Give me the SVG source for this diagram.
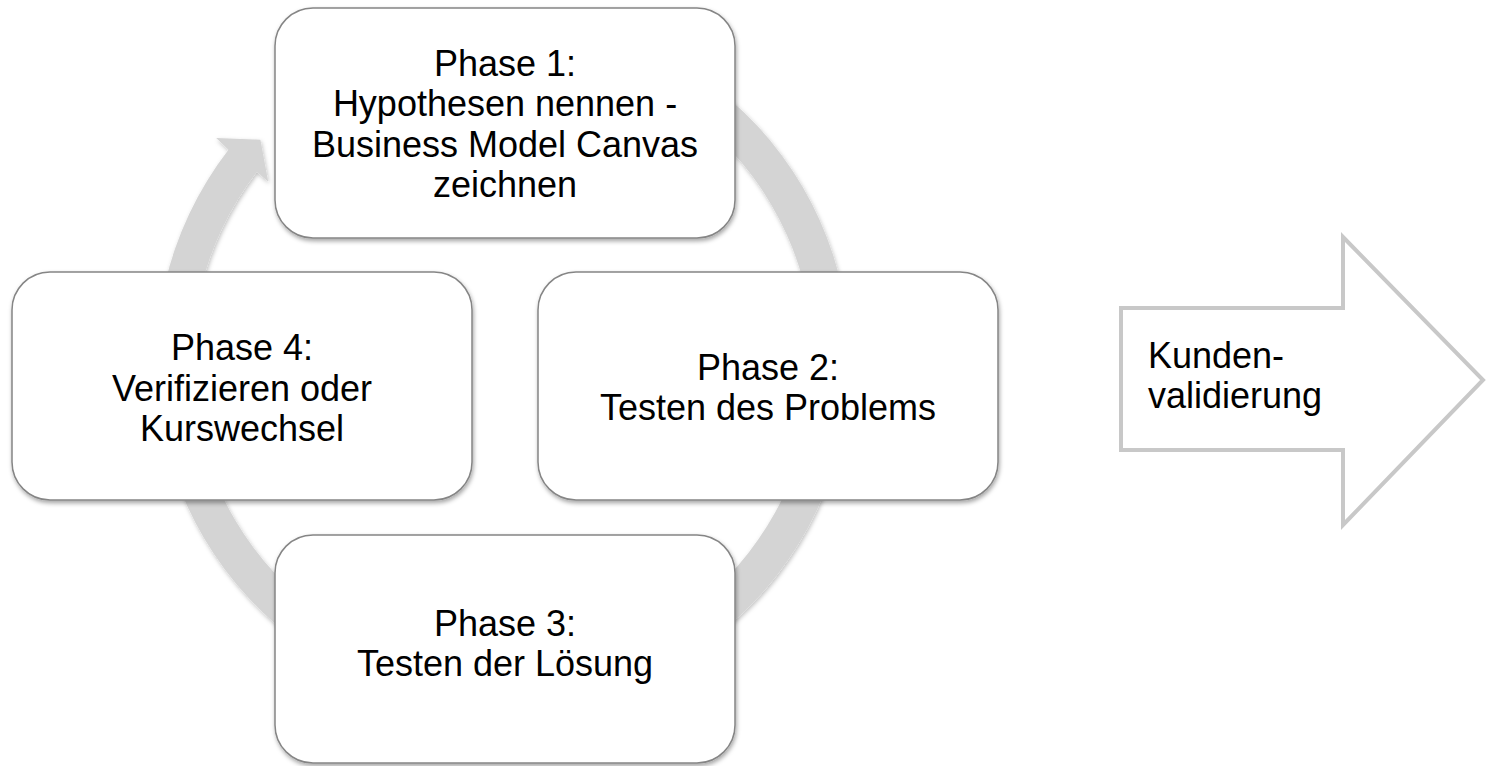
<svg xmlns="http://www.w3.org/2000/svg" width="1488" height="766" viewBox="0 0 1488 766">
  <defs>
    <filter id="boxShadow" x="-10%" y="-10%" width="125%" height="130%">
      <feDropShadow dx="1" dy="2.5" stdDeviation="2" flood-color="#000" flood-opacity="0.35"/>
    </filter>
    <filter id="ringShadow" x="-10%" y="-10%" width="125%" height="125%">
      <feDropShadow dx="1" dy="2" stdDeviation="2" flood-color="#000" flood-opacity="0.25"/>
    </filter>
  </defs>
  <style>
    .box { fill: #ffffff; stroke: #858585; stroke-width: 1.5; filter: url(#boxShadow); }
    .lbl { font-family: "Liberation Sans", Arial, sans-serif; font-size: 36px; fill: #000000; text-anchor: middle; }
    .side { font-family: "Liberation Sans", Arial, sans-serif; font-size: 36px; fill: #000000; }
    .ring { fill: #d4d4d4; filter: url(#ringShadow); }
    .bigArrow { fill: #ffffff; stroke: #c8c8c8; stroke-width: 4; stroke-linejoin: miter; }
  </style>

  <rect width="1488" height="766" fill="#ffffff"/>

  <!-- circular cycle arrow behind the four phases -->
  <g id="connectors">
    <path class="ring" d="M 563.3 20.3 A 347 347 0 1 1 228.5 149.8 L 216.2 137.9 L 260.4 139.7 L 268.2 181.8 L 256.9 171.8 A 311 311 0 1 0 557 55.7 Z"/>
  </g>

  <g id="phase1">
    <rect class="box" x="275" y="8" width="460" height="230" rx="38" ry="38"/>
    <text class="lbl" x="505" y="75.5">Phase 1:</text>
    <text class="lbl" x="505" y="116">Hypothesen nennen -</text>
    <text class="lbl" x="505" y="156.5">Business Model Canvas</text>
    <text class="lbl" x="505" y="197">zeichnen</text>
  </g>

  <g id="phase2">
    <rect class="box" x="538" y="272" width="460" height="228" rx="38" ry="38"/>
    <text class="lbl" x="768" y="380">Phase 2:</text>
    <text class="lbl" x="768" y="420">Testen des Problems</text>
  </g>

  <g id="phase3">
    <rect class="box" x="275" y="535" width="460" height="228" rx="38" ry="38"/>
    <text class="lbl" x="505" y="635.5">Phase 3:</text>
    <text class="lbl" x="505" y="676">Testen der Lösung</text>
  </g>

  <g id="phase4">
    <rect class="box" x="12" y="272" width="460" height="228" rx="38" ry="38"/>
    <text class="lbl" x="242" y="360">Phase 4:</text>
    <text class="lbl" x="242" y="400.5">Verifizieren oder</text>
    <text class="lbl" x="242" y="441">Kurswechsel</text>
  </g>

  <g id="kundenvalidierung">
    <path class="bigArrow" d="M 1121 308 L 1343 308 L 1343 237 L 1483 380 L 1343 525 L 1343 450 L 1121 450 Z"/>
    <text class="side" x="1148" y="368">Kunden-</text>
    <text class="side" x="1148" y="408">validierung</text>
  </g>
</svg>
